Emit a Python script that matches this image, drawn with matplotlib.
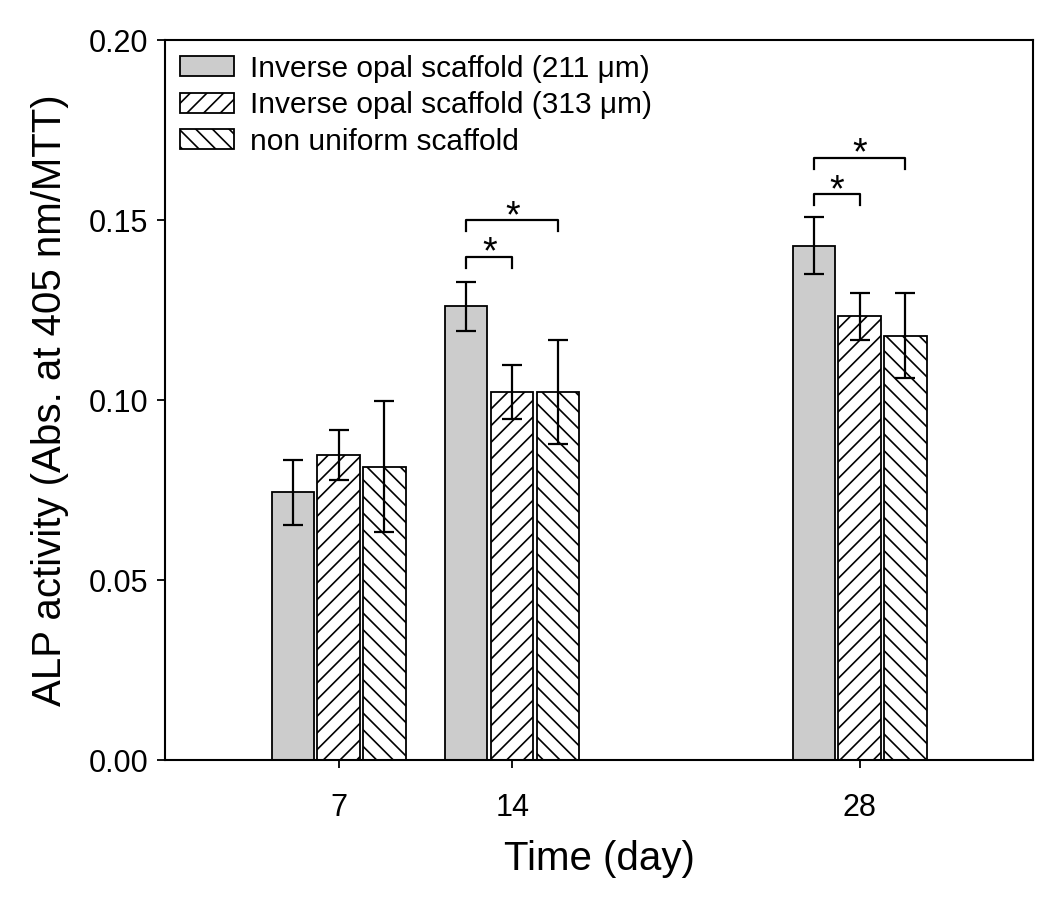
import numpy as np
import matplotlib
matplotlib.use("Agg")
from matplotlib import pyplot as plt

days = [7, 14, 28]
labels = ["Inverse opal scaffold (211 μm)",
          "Inverse opal scaffold (313 μm)",
          "non uniform scaffold"]
ips211 = [0.0744, 0.1261, 0.1429]
err211 = [0.0090, 0.0068, 0.0078]
ips313 = [0.0847, 0.1022, 0.1232]
err313 = [0.0070, 0.0075, 0.0066]
nonuni = [0.0815, 0.1022, 0.1179]
errnon = [0.0182, 0.0144, 0.0117]

# significance brackets: (day index, second bar index, bracket height)
sig_day = [1, 1, 2, 2]
sig_bar = [1, 2, 1, 2]
sig_top = [0.1398, 0.1500, 0.1572, 0.1673]

plt.rcParams['font.family'] = ['Liberation Sans', 'DejaVu Sans']
plt.rcParams['hatch.linewidth'] = 1.2

fig = plt.figure(figsize=(10.5, 8.97), dpi=100)
ax = fig.add_axes([0.157, 0.1527, 0.827, 0.8027])

pitch = 1.85
width = 1.7
x = np.array(days, dtype=float)
series = [ips211, ips313, nonuni]
errs = [err211, err313, errnon]
colors = ["#cccccc", "white", "white"]
hatches = [None, "//", "\\\\"]
for i in range(3):
    pos = x + (i - 1) * pitch
    ax.bar(pos, series[i], width, color=colors[i], edgecolor="black",
           linewidth=1.3, hatch=hatches[i], label=labels[i], zorder=2)
    ax.errorbar(pos, series[i], yerr=errs[i], fmt="none", ecolor="black",
                elinewidth=1.6, capsize=7, capthick=1.6, zorder=3)

leg_drop = 0.003
for d, b, top in zip(sig_day, sig_bar, sig_top):
    x0 = x[d] - pitch
    x1 = x[d] + (b - 1) * pitch
    ax.plot([x0, x0, x1, x1], [top - leg_drop, top, top, top - leg_drop],
            color="black", lw=1.6, zorder=3)
    ax.annotate("*", xy=((x0 + x1) / 2, top), xytext=(0, -5),
                textcoords="offset points", ha="center", va="baseline",
                fontsize=27)

ax.set_xlim(0, 35)
ax.set_ylim(0, 0.20)
ax.set_xticks(days)
ax.set_yticks([0, 0.05, 0.10, 0.15, 0.20])
ax.set_yticklabels(["0.00", "0.05", "0.10", "0.15", "0.20"])
ax.tick_params(direction="out", length=6, width=1.3, labelsize=22)
ax.tick_params(axis="x", pad=18)
ax.tick_params(axis="y", pad=6)
for s in ax.spines.values():
    s.set_linewidth(1.5)

ax.set_xlabel("Time (day)", fontsize=29, labelpad=12)
ax.set_ylabel("ALP activity (Abs. at 405 nm/MTT)", fontsize=29, labelpad=14)

ax.legend(loc="upper left", frameon=False, fontsize=21.5,
          handlelength=1.8, handleheight=0.65, handletextpad=0.55,
          labelspacing=0.28, borderaxespad=0.2, borderpad=0.3)

fig.savefig("out.png", dpi=100)
